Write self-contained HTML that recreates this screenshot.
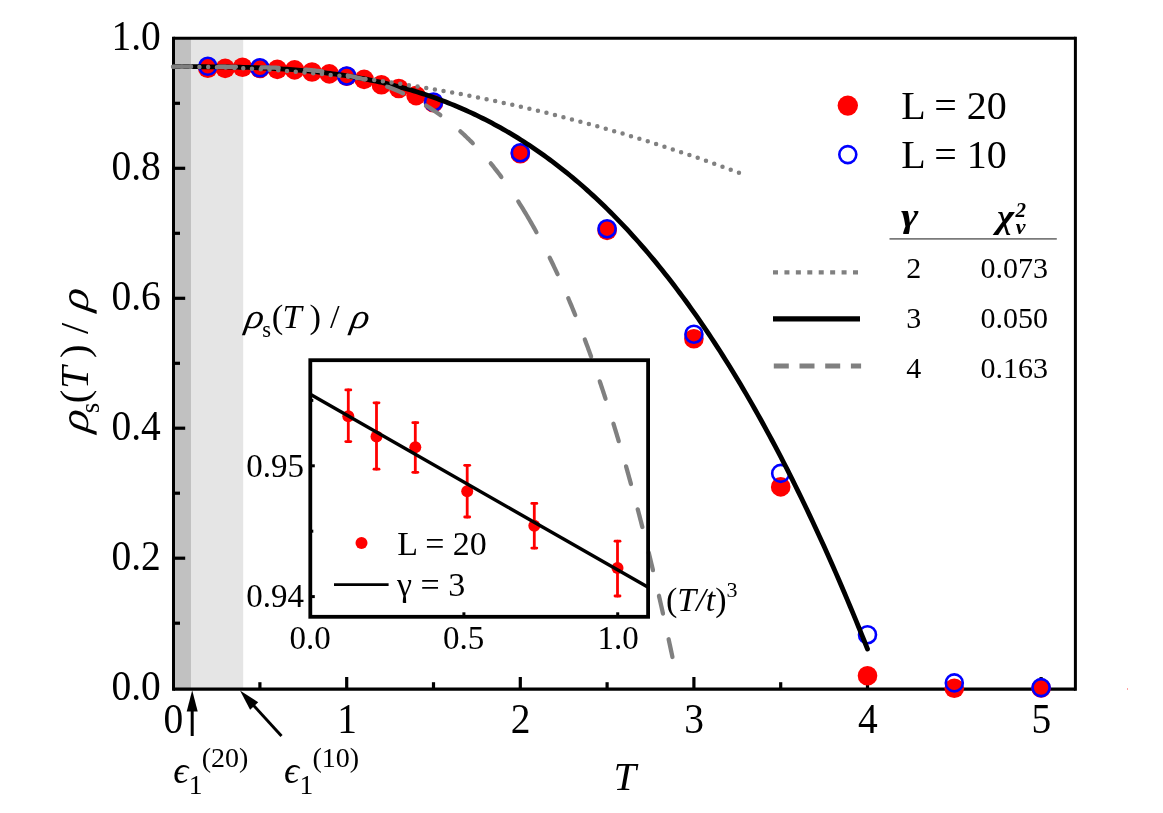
<!DOCTYPE html><html><head><meta charset="utf-8"><title>plot</title><style>html,body{margin:0;padding:0;background:#fff}svg{display:block;will-change:transform}text{font-family:"Liberation Serif",serif;fill:#000}.i{font-style:italic}.bi{font-style:italic;font-weight:bold}</style></head><body>
<svg width="1163" height="813" viewBox="0 0 1163 813">
<rect width="1163" height="813" fill="#fff"/>
<rect x="173.5" y="38.25" width="17.5" height="650.95" fill="#c1c1c1"/>
<rect x="191" y="38.25" width="52.19999999999999" height="650.95" fill="#e5e5e5"/>
<g stroke="#000" fill="none"><line x1="173.5" y1="36.75" x2="173.5" y2="690.85" stroke-width="3"/><line x1="1075.4" y1="36.75" x2="1075.4" y2="690.85" stroke-width="3"/><line x1="173.5" y1="38.25" x2="1075.4" y2="38.25" stroke-width="3"/><line x1="173.5" y1="689.2" x2="1075.4" y2="689.2" stroke-width="3.3"/></g>
<g stroke="#000" stroke-width="3.2">
<line x1="259.9" y1="689.2" x2="259.9" y2="682.2"/>
<line x1="346.7" y1="689.2" x2="346.7" y2="677.0"/>
<line x1="433.5" y1="689.2" x2="433.5" y2="682.2"/>
<line x1="520.3" y1="689.2" x2="520.3" y2="677.0"/>
<line x1="607.1" y1="689.2" x2="607.1" y2="682.2"/>
<line x1="693.9" y1="689.2" x2="693.9" y2="677.0"/>
<line x1="780.7" y1="689.2" x2="780.7" y2="682.2"/>
<line x1="867.5" y1="689.2" x2="867.5" y2="677.0"/>
<line x1="954.3" y1="689.2" x2="954.3" y2="682.2"/>
<line x1="1041.1" y1="689.2" x2="1041.1" y2="677.0"/>
<line x1="173.5" y1="623.2" x2="180.0" y2="623.2"/>
<line x1="173.5" y1="558.2" x2="185.2" y2="558.2"/>
<line x1="173.5" y1="493.2" x2="180.0" y2="493.2"/>
<line x1="173.5" y1="428.2" x2="185.2" y2="428.2"/>
<line x1="173.5" y1="363.3" x2="180.0" y2="363.3"/>
<line x1="173.5" y1="298.3" x2="185.2" y2="298.3"/>
<line x1="173.5" y1="233.3" x2="180.0" y2="233.3"/>
<line x1="173.5" y1="168.3" x2="185.2" y2="168.3"/>
<line x1="173.5" y1="103.3" x2="180.0" y2="103.3"/>
</g>
<g fill="#ff0000">
<circle cx="207.8" cy="68.3" r="9.8"/>
<circle cx="225.2" cy="68.4" r="9.8"/>
<circle cx="242.5" cy="67.2" r="9.8"/>
<circle cx="259.9" cy="68.5" r="9.8"/>
<circle cx="277.3" cy="69.4" r="9.8"/>
<circle cx="294.6" cy="69.9" r="9.8"/>
<circle cx="312.0" cy="72.0" r="9.8"/>
<circle cx="329.3" cy="73.9" r="9.8"/>
<circle cx="346.7" cy="76.3" r="9.8"/>
<circle cx="364.1" cy="79.4" r="9.8"/>
<circle cx="381.4" cy="84.7" r="9.8"/>
<circle cx="398.8" cy="88.5" r="9.8"/>
<circle cx="416.1" cy="95.6" r="9.8"/>
<circle cx="433.5" cy="102.7" r="9.8"/>
<circle cx="520.3" cy="153.7" r="9.8"/>
<circle cx="607.1" cy="230.4" r="9.8"/>
<circle cx="693.9" cy="338.7" r="9.8"/>
<circle cx="780.7" cy="486.9" r="9.8"/>
<circle cx="867.5" cy="675.8" r="9.8"/>
<circle cx="954.3" cy="688.2" r="9.8"/>
<circle cx="1041.1" cy="688.0" r="9.8"/>
</g>
<g fill="none" stroke="#0000ff" stroke-width="2.6">
<circle cx="207.8" cy="66.3" r="8.5"/>
<circle cx="259.9" cy="67.8" r="8.5"/>
<circle cx="346.7" cy="76.0" r="8.5"/>
<circle cx="433.5" cy="102.0" r="8.5"/>
<circle cx="520.3" cy="152.7" r="8.5"/>
<circle cx="607.1" cy="228.7" r="8.5"/>
<circle cx="693.9" cy="334.2" r="8.5"/>
<circle cx="780.7" cy="473.4" r="8.5"/>
<circle cx="867.5" cy="634.7" r="8.5"/>
<circle cx="954.3" cy="682.9" r="8.5"/>
<circle cx="1041.1" cy="687.6" r="8.5"/>
</g>
<path d="M173.79,66.70 L176.68,66.70 L179.58,66.70 L182.47,66.70 L185.36,66.70 L188.25,66.71 L191.14,66.71 L194.03,66.72 L196.92,66.72 L199.81,66.73 L202.70,66.75 L205.59,66.76 L208.48,66.78 L211.37,66.80 L214.26,66.82 L217.15,66.85 L220.04,66.88 L222.93,66.92 L225.82,66.96 L228.71,67.00 L231.60,67.05 L234.49,67.10 L237.38,67.16 L240.27,67.23 L243.16,67.30 L246.06,67.38 L248.95,67.46 L251.84,67.55 L254.73,67.65 L257.62,67.75 L260.51,67.86 L263.40,67.98 L266.29,68.11 L269.18,68.24 L272.07,68.39 L274.96,68.54 L277.85,68.70 L280.74,68.87 L283.63,69.05 L286.52,69.24 L289.41,69.44 L292.30,69.65 L295.19,69.87 L298.08,70.10 L300.97,70.34 L303.86,70.59 L306.75,70.85 L309.65,71.13 L312.54,71.42 L315.43,71.71 L318.32,72.03 L321.21,72.35 L324.10,72.69 L326.99,73.04 L329.88,73.40 L332.77,73.78 L335.66,74.17 L338.55,74.58 L341.44,75.00 L344.33,75.43 L347.22,75.88 L350.11,76.35 L353.00,76.83 L355.89,77.32 L358.78,77.83 L361.67,78.36 L364.56,78.91 L367.45,79.47 L370.34,80.05 L373.23,80.64 L376.13,81.25 L379.02,81.88 L381.91,82.53 L384.80,83.20 L387.69,83.89 L390.58,84.59 L393.47,85.31 L396.36,86.05 L399.25,86.82 L402.14,87.60 L405.03,88.40 L407.92,89.22 L410.81,90.06 L413.70,90.92 L416.59,91.81 L419.48,92.71 L422.37,93.64 L425.26,94.59 L428.15,95.56 L431.04,96.55 L433.93,97.56 L436.82,98.60 L439.71,99.66 L442.61,100.74 L445.50,101.85 L448.39,102.98 L451.28,104.14 L454.17,105.32 L457.06,106.52 L459.95,107.75 L462.84,109.00 L465.73,110.28 L468.62,111.58 L471.51,112.91 L474.40,114.27 L477.29,115.65 L480.18,117.06 L483.07,118.50 L485.96,119.96 L488.85,121.45 L491.74,122.97 L494.63,124.51 L497.52,126.08 L500.41,127.69 L503.30,129.32 L506.20,130.97 L509.09,132.66 L511.98,134.38 L514.87,136.13 L517.76,137.90 L520.65,139.71 L523.54,141.54 L526.43,143.41 L529.32,145.31 L532.21,147.24 L535.10,149.20 L537.99,151.19 L540.88,153.22 L543.77,155.27 L546.66,157.36 L549.55,159.48 L552.44,161.63 L555.33,163.82 L558.22,166.04 L561.11,168.29 L564.00,170.58 L566.89,172.90 L569.78,175.26 L572.68,177.65 L575.57,180.07 L578.46,182.53 L581.35,185.03 L584.24,187.56 L587.13,190.13 L590.02,192.73 L592.91,195.37 L595.80,198.05 L598.69,200.76 L601.58,203.51 L604.47,206.30 L607.36,209.12 L610.25,211.99 L613.14,214.89 L616.03,217.83 L618.92,220.80 L621.81,223.82 L624.70,226.88 L627.59,229.97 L630.48,233.11 L633.37,236.28 L636.26,239.50 L639.16,242.75 L642.05,246.05 L644.94,249.38 L647.83,252.76 L650.72,256.18 L653.61,259.64 L656.50,263.15 L659.39,266.69 L662.28,270.28 L665.17,273.91 L668.06,277.58 L670.95,281.30 L673.84,285.06 L676.73,288.86 L679.62,292.71 L682.51,296.60 L685.40,300.53 L688.29,304.51 L691.18,308.54 L694.07,312.61 L696.96,316.72 L699.85,320.89 L702.74,325.09 L705.64,329.35 L708.53,333.65 L711.42,337.99 L714.31,342.39 L717.20,346.83 L720.09,351.32 L722.98,355.85 L725.87,360.44 L728.76,365.07 L731.65,369.75 L734.54,374.48 L737.43,379.25 L740.32,384.08 L743.21,388.96 L746.10,393.89 L748.99,398.86 L751.88,403.89 L754.77,408.97 L757.66,414.09 L760.55,419.27 L763.44,424.50 L766.33,429.78 L769.23,435.12 L772.12,440.50 L775.01,445.94 L777.90,451.43 L780.79,456.97 L783.68,462.57 L786.57,468.21 L789.46,473.92 L792.35,479.67 L795.24,485.48 L798.13,491.35 L801.02,497.27 L803.91,503.24 L806.80,509.27 L809.69,515.35 L812.58,521.49 L815.47,527.68 L818.36,533.93 L821.25,540.24 L824.14,546.61 L827.03,553.03 L829.92,559.50 L832.81,566.04 L835.71,572.63 L838.60,579.28 L841.49,585.99 L844.38,592.75 L847.27,599.58 L850.16,606.46 L853.05,613.40 L855.94,620.41 L858.83,627.47 L861.72,634.59 L864.61,641.77 L867.50,649.01" fill="none" stroke="#000" stroke-width="4.8" stroke-linecap="round"/>
<g fill="none" stroke="#808080" stroke-width="4.3" stroke-linecap="round">
<path d="M173.85,66.70 L175.17,66.70 L176.50,66.70 L177.82,66.70 L179.14,66.70 L180.47,66.70 L181.79,66.70 L183.11,66.70 L184.43,66.70 L185.76,66.70 L187.08,66.70 L188.40,66.70 L189.73,66.70 L191.05,66.70"/>
<path d="M218.75,66.74 L220.07,66.75 L221.40,66.75 L222.72,66.76 L224.04,66.76 L225.37,66.77 L226.69,66.78 L228.01,66.79 L229.33,66.80 L230.66,66.80 L231.98,66.81 L233.30,66.83 L234.63,66.84 L235.95,66.85"/>
<path d="M261.55,67.28 L262.87,67.32 L264.19,67.35 L265.51,67.39 L266.84,67.43 L268.16,67.48 L269.48,67.52 L270.80,67.57 L272.12,67.61 L273.45,67.66 L274.77,67.72 L276.09,67.77 L277.41,67.82 L278.73,67.88"/>
<path d="M305.18,69.59 L306.50,69.71 L307.81,69.83 L309.13,69.95 L310.45,70.08 L311.76,70.21 L313.08,70.35 L314.40,70.49 L315.71,70.63 L317.03,70.78 L318.34,70.93 L319.65,71.08 L320.97,71.24 L322.28,71.40"/>
<path d="M347.74,75.53 L349.04,75.80 L350.33,76.07 L351.63,76.35 L352.92,76.63 L354.21,76.92 L355.50,77.21 L356.79,77.51 L358.08,77.82 L359.36,78.13 L360.65,78.45 L361.93,78.77 L363.21,79.10 L364.49,79.44"/>
<path d="M387.17,86.64 L388.40,87.11 L389.64,87.58 L390.87,88.06 L392.10,88.54 L393.33,89.04 L394.56,89.54 L395.78,90.05 L397.00,90.56 L398.21,91.08 L399.42,91.61 L400.63,92.15 L401.84,92.69 L403.04,93.25"/>
<path d="M426.03,105.56 L427.16,106.26 L428.28,106.96 L429.40,107.67 L430.51,108.39 L431.62,109.11 L432.72,109.84 L433.82,110.58 L434.92,111.32 L436.01,112.07 L437.09,112.82 L438.18,113.58 L439.26,114.35 L440.33,115.12"/>
<path d="M460.36,131.36 L461.34,132.25 L462.32,133.14 L463.29,134.04 L464.26,134.94 L465.22,135.85 L466.18,136.76 L467.14,137.68 L468.08,138.60 L469.03,139.52 L469.97,140.45 L470.91,141.39 L471.84,142.33 L472.77,143.27"/>
<path d="M490.76,163.39 L491.60,164.41 L492.43,165.44 L493.26,166.47 L494.09,167.51 L494.91,168.54 L495.73,169.58 L496.54,170.62 L497.35,171.67 L498.16,172.72 L498.96,173.77 L499.76,174.82 L500.56,175.88 L501.35,176.94"/>
<path d="M518.26,201.47 L519.73,203.79 L521.19,206.12 L522.64,208.45 L524.08,210.79 L525.50,213.14 L526.91,215.50 L528.31,217.86 L529.69,220.23 L531.06,222.61 L532.42,225.00 L533.77,227.39 L535.11,229.78 L536.44,232.19"/>
<path d="M549.72,257.74 L550.34,259.00 L550.95,260.26 L551.56,261.51 L552.18,262.77 L552.78,264.04 L553.39,265.30 L553.99,266.56 L554.59,267.83 L555.19,269.09 L555.79,270.36 L556.38,271.63 L556.97,272.89 L557.56,274.16"/>
<path d="M568.24,298.20 L568.79,299.48 L569.34,300.77 L569.88,302.06 L570.43,303.35 L570.97,304.65 L571.51,305.94 L572.04,307.23 L572.58,308.52 L573.11,309.82 L573.64,311.11 L574.17,312.41 L574.70,313.71 L575.23,315.00"/>
<path d="M584.80,339.50 L585.29,340.81 L585.79,342.12 L586.28,343.43 L586.76,344.74 L587.25,346.06 L587.74,347.37 L588.22,348.68 L588.70,350.00 L589.19,351.31 L589.67,352.63 L590.14,353.94 L590.62,355.26 L591.10,356.57"/>
<path d="M599.77,381.40 L600.22,382.73 L600.67,384.05 L601.12,385.38 L601.56,386.71 L602.00,388.04 L602.45,389.37 L602.89,390.69 L603.33,392.02 L603.77,393.35 L604.20,394.68 L604.64,396.01 L605.08,397.34 L605.51,398.67"/>
<path d="M613.45,423.75 L613.87,425.08 L614.28,426.42 L614.69,427.76 L615.09,429.10 L615.50,430.44 L615.91,431.78 L616.32,433.12 L616.72,434.46 L617.12,435.80 L617.53,437.14 L617.93,438.48 L618.33,439.82 L618.73,441.16"/>
<path d="M626.06,466.42 L626.44,467.77 L626.82,469.12 L627.20,470.46 L627.58,471.81 L627.96,473.16 L628.33,474.51 L628.71,475.86 L629.08,477.21 L629.46,478.55 L629.83,479.90 L630.20,481.25 L630.58,482.60 L630.95,483.95"/>
<path d="M637.76,509.35 L638.12,510.71 L638.47,512.06 L638.82,513.42 L639.18,514.77 L639.53,516.13 L639.88,517.48 L640.23,518.84 L640.58,520.19 L640.93,521.55 L641.28,522.91 L641.62,524.26 L641.97,525.62 L642.32,526.98"/>
<path d="M648.69,552.49 L649.02,553.85 L649.35,555.21 L649.69,556.57 L650.02,557.93 L650.35,559.29 L650.68,560.65 L651.00,562.01 L651.33,563.38 L651.66,564.74 L651.99,566.10 L652.31,567.46 L652.64,568.82 L652.96,570.18"/>
<path d="M658.95,595.79 L659.26,597.16 L659.58,598.52 L659.89,599.89 L660.20,601.25 L660.51,602.62 L660.82,603.98 L661.13,605.35 L661.44,606.71 L661.75,608.08 L662.05,609.44 L662.36,610.81 L662.67,612.18 L662.98,613.54"/>
<path d="M668.63,639.23 L668.92,640.59 L669.22,641.96 L669.51,643.33 L669.81,644.70 L670.10,646.07 L670.40,647.44 L670.69,648.81 L670.98,650.18 L671.27,651.55 L671.56,652.91 L671.86,654.28 L672.15,655.65 L672.44,657.02"/>
</g>
<path d="M173.10,66.70 L175.47,66.70 L177.84,66.71 L180.20,66.72 L182.57,66.73 L184.94,66.75 L187.31,66.77 L189.68,66.79 L192.05,66.82 L194.41,66.85 L196.78,66.89 L199.15,66.93 L201.52,66.97 L203.89,67.01 L206.25,67.06 L208.62,67.12 L210.99,67.18 L213.36,67.24 L215.73,67.30 L218.10,67.37 L220.46,67.44 L222.83,67.52 L225.20,67.60 L227.57,67.68 L229.94,67.77 L232.30,67.86 L234.67,67.96 L237.04,68.05 L239.41,68.16 L241.78,68.26 L244.15,68.37 L246.51,68.49 L248.88,68.60 L251.25,68.72 L253.62,68.85 L255.99,68.98 L258.35,69.11 L260.72,69.24 L263.09,69.38 L265.46,69.53 L267.83,69.67 L270.20,69.82 L272.56,69.98 L274.93,70.14 L277.30,70.30 L279.67,70.46 L282.04,70.63 L284.41,70.80 L286.77,70.98 L289.14,71.16 L291.51,71.34 L293.88,71.53 L296.25,71.72 L298.61,71.92 L300.98,72.12 L303.35,72.32 L305.72,72.53 L308.09,72.74 L310.46,72.95 L312.82,73.17 L315.19,73.39 L317.56,73.61 L319.93,73.84 L322.30,74.07 L324.66,74.31 L327.03,74.55 L329.40,74.79 L331.77,75.04 L334.14,75.29 L336.51,75.55 L338.87,75.80 L341.24,76.07 L343.61,76.33 L345.98,76.60 L348.35,76.87 L350.71,77.15 L353.08,77.43 L355.45,77.71 L357.82,78.00 L360.19,78.29 L362.56,78.59 L364.92,78.89 L367.29,79.19 L369.66,79.50 L372.03,79.81 L374.40,80.12 L376.76,80.44 L379.13,80.76 L381.50,81.09 L383.87,81.42 L386.24,81.75 L388.61,82.08 L390.97,82.42 L393.34,82.77 L395.71,83.12 L398.08,83.47 L400.45,83.82 L402.81,84.18 L405.18,84.54 L407.55,84.91 L409.92,85.28 L412.29,85.65 L414.66,86.03 L417.02,86.41 L419.39,86.79 L421.76,87.18 L424.13,87.57 L426.50,87.97 L428.86,88.37 L431.23,88.77 L433.60,89.18 L435.97,89.59 L438.34,90.00 L440.71,90.42 L443.07,90.84 L445.44,91.27 L447.81,91.70 L450.18,92.13 L452.55,92.57 L454.92,93.01 L457.28,93.45 L459.65,93.90 L462.02,94.35 L464.39,94.81 L466.76,95.26 L469.12,95.73 L471.49,96.19 L473.86,96.66 L476.23,97.14 L478.60,97.61 L480.97,98.10 L483.33,98.58 L485.70,99.07 L488.07,99.56 L490.44,100.06 L492.81,100.56 L495.17,101.06 L497.54,101.57 L499.91,102.08 L502.28,102.59 L504.65,103.11 L507.02,103.63 L509.38,104.16 L511.75,104.69 L514.12,105.22 L516.49,105.76 L518.86,106.30 L521.22,106.84 L523.59,107.39 L525.96,107.94 L528.33,108.50 L530.70,109.06 L533.07,109.62 L535.43,110.19 L537.80,110.76 L540.17,111.33 L542.54,111.91 L544.91,112.49 L547.27,113.08 L549.64,113.66 L552.01,114.26 L554.38,114.85 L556.75,115.45 L559.12,116.06 L561.48,116.66 L563.85,117.28 L566.22,117.89 L568.59,118.51 L570.96,119.13 L573.32,119.76 L575.69,120.39 L578.06,121.02 L580.43,121.66 L582.80,122.30 L585.17,122.94 L587.53,123.59 L589.90,124.24 L592.27,124.90 L594.64,125.56 L597.01,126.22 L599.37,126.89 L601.74,127.56 L604.11,128.23 L606.48,128.91 L608.85,129.59 L611.22,130.28 L613.58,130.97 L615.95,131.66 L618.32,132.36 L620.69,133.06 L623.06,133.76 L625.42,134.47 L627.79,135.18 L630.16,135.90 L632.53,136.62 L634.90,137.34 L637.27,138.07 L639.63,138.80 L642.00,139.53 L644.37,140.27 L646.74,141.01 L649.11,141.75 L651.48,142.50 L653.84,143.25 L656.21,144.01 L658.58,144.77 L660.95,145.53 L663.32,146.30 L665.68,147.07 L668.05,147.85 L670.42,148.62 L672.79,149.41 L675.16,150.19 L677.53,150.98 L679.89,151.78 L682.26,152.57 L684.63,153.37 L687.00,154.18 L689.37,154.99 L691.73,155.80 L694.10,156.61 L696.47,157.43 L698.84,158.25 L701.21,159.08 L703.58,159.91 L705.94,160.75 L708.31,161.58 L710.68,162.43 L713.05,163.27 L715.42,164.12 L717.78,164.97 L720.15,165.83 L722.52,166.69 L724.89,167.55 L727.26,168.42 L729.63,169.29 L731.99,170.17 L734.36,171.05 L736.73,171.93 L739.10,172.81 L741.47,173.70" fill="none" stroke="#808080" stroke-width="4.5" stroke-linecap="round" stroke-dasharray="0 8.77"/>
<g transform="translate(173.4,733.0) scale(0.94,1)"><text x="0" y="0" font-size="42" text-anchor="middle">0</text></g>
<g transform="translate(347.0,733.0) scale(0.94,1)"><text x="0" y="0" font-size="42" text-anchor="middle">1</text></g>
<g transform="translate(520.6,733.0) scale(0.94,1)"><text x="0" y="0" font-size="42" text-anchor="middle">2</text></g>
<g transform="translate(694.2,733.0) scale(0.94,1)"><text x="0" y="0" font-size="42" text-anchor="middle">3</text></g>
<g transform="translate(867.8,733.0) scale(0.94,1)"><text x="0" y="0" font-size="42" text-anchor="middle">4</text></g>
<g transform="translate(1041.4,733.0) scale(0.94,1)"><text x="0" y="0" font-size="42" text-anchor="middle">5</text></g>
<g transform="translate(160.8,700.1) scale(0.94,1)"><text x="0" y="0" font-size="42" text-anchor="end">0.0</text></g>
<g transform="translate(160.8,570.1) scale(0.94,1)"><text x="0" y="0" font-size="42" text-anchor="end">0.2</text></g>
<g transform="translate(160.8,440.1) scale(0.94,1)"><text x="0" y="0" font-size="42" text-anchor="end">0.4</text></g>
<g transform="translate(160.8,310.2) scale(0.94,1)"><text x="0" y="0" font-size="42" text-anchor="end">0.6</text></g>
<g transform="translate(160.8,180.2) scale(0.94,1)"><text x="0" y="0" font-size="42" text-anchor="end">0.8</text></g>
<g transform="translate(160.8,50.2) scale(0.94,1)"><text x="0" y="0" font-size="42" text-anchor="end">1.0</text></g>
<text x="613.5" y="789.9" font-size="40.5" class="i">T</text>
<g transform="translate(88.2,436) rotate(-90)">
<g transform="translate(3.2,0.0) skewX(-9) scale(1.12,1)"><text x="0" y="0" font-size="40.5" class="i">ρ</text></g>
<text x="22.8" y="10.8" font-size="27">s</text>
<text x="32.8" y="0.0" font-size="40.5">(</text>
<text x="47.0" y="0.0" font-size="40.5" class="i">T</text>
<text x="77.9" y="0.0" font-size="40.5">)</text>
<text x="102.1" y="0.0" font-size="40.5">/</text>
<g transform="translate(124.6,0.0) skewX(-9) scale(1.12,1)"><text x="0" y="0" font-size="40.5" class="i">ρ</text></g>
</g>
<g stroke="#000" stroke-width="3" fill="#000">
<line x1="192.2" y1="736" x2="192.2" y2="705"/><polygon points="192.2,690.3 186.7,711.5 197.7,711.5" stroke="none"/>
<line x1="281.5" y1="736" x2="250.1" y2="701.6"/><polygon points="240,690.5 258.2,702.3 250.1,709.7" stroke="none"/>
</g>
<text x="173.3" y="783.0" font-size="37.5" class="i">ϵ</text>
<text x="188.8" y="794.0" font-size="27.5">1</text>
<text x="201.7" y="766.9" font-size="28">(20)</text>
<text x="284.1" y="783.0" font-size="37.5" class="i">ϵ</text>
<text x="299.6" y="794.0" font-size="27.5">1</text>
<text x="312.5" y="766.9" font-size="28">(10)</text>
<circle cx="847.8" cy="105.6" r="10.2" fill="#ff0000"/>
<circle cx="847.8" cy="154.6" r="8.5" fill="none" stroke="#0000ff" stroke-width="2.6"/>
<text x="901.3" y="119.2" font-size="40">L = 20</text>
<text x="901.3" y="168" font-size="40">L = 10</text>
<g transform="translate(901.0,226.6) scale(1.25,1)"><text x="0" y="0" font-size="33.5" class="bi">γ</text></g>
<g transform="translate(996.9,227.8) scale(1.08,1)"><text x="0" y="0" font-size="34" class="bi">χ</text></g>
<text x="1015.6" y="217.1" font-size="21" class="bi">2</text>
<text x="1015.7" y="234.0" font-size="22" class="bi">ν</text>
<line x1="889.5" y1="238.8" x2="1056.8" y2="238.8" stroke="#7a7a7a" stroke-width="1.7"/>
<text x="913.8" y="277.5" font-size="30" text-anchor="middle">2</text>
<text x="1014.3" y="277.5" font-size="30" text-anchor="middle">0.073</text>
<text x="913.8" y="327.7" font-size="30" text-anchor="middle">3</text>
<text x="1014.3" y="327.7" font-size="30" text-anchor="middle">0.050</text>
<text x="913.8" y="377.9" font-size="30" text-anchor="middle">4</text>
<text x="1014.3" y="377.9" font-size="30" text-anchor="middle">0.163</text>
<line x1="773" y1="272.4" x2="860" y2="272.4" stroke="#808080" stroke-width="4.2" stroke-dasharray="5 6.43"/>
<line x1="773" y1="318.9" x2="860" y2="318.9" stroke="#000" stroke-width="5.2"/>
<line x1="773.8" y1="366.0" x2="861.1" y2="366.0" stroke="#808080" stroke-width="5" stroke-dasharray="15 10.7"/>
<g stroke="#ff0000" stroke-width="2.8" fill="#ff0000" stroke-linecap="round">
<line x1="348.3" y1="389.9" x2="348.3" y2="441.6"/><line x1="345.8" y1="389.9" x2="350.8" y2="389.9"/><line x1="345.8" y1="441.6" x2="350.8" y2="441.6"/><circle cx="348.3" cy="416.2" r="6.0" stroke="none"/>
<line x1="376.5" y1="402.8" x2="376.5" y2="469.2"/><line x1="374.0" y1="402.8" x2="379.0" y2="402.8"/><line x1="374.0" y1="469.2" x2="379.0" y2="469.2"/><circle cx="376.5" cy="436.4" r="6.0" stroke="none"/>
<line x1="415.3" y1="422.7" x2="415.3" y2="472.3"/><line x1="412.8" y1="422.7" x2="417.8" y2="422.7"/><line x1="412.8" y1="472.3" x2="417.8" y2="472.3"/><circle cx="415.3" cy="447.2" r="6.0" stroke="none"/>
<line x1="467.2" y1="465.3" x2="467.2" y2="517"/><line x1="464.7" y1="465.3" x2="469.7" y2="465.3"/><line x1="464.7" y1="517" x2="469.7" y2="517"/><circle cx="467.2" cy="491.2" r="6.0" stroke="none"/>
<line x1="534.3" y1="503.4" x2="534.3" y2="548.1"/><line x1="531.8" y1="503.4" x2="536.8" y2="503.4"/><line x1="531.8" y1="548.1" x2="536.8" y2="548.1"/><circle cx="534.3" cy="525.8" r="6.0" stroke="none"/>
<line x1="617.5" y1="541.2" x2="617.5" y2="596"/><line x1="615.0" y1="541.2" x2="620.0" y2="541.2"/><line x1="615.0" y1="596" x2="620.0" y2="596"/><circle cx="617.5" cy="568.1" r="6.0" stroke="none"/>
</g>
<line x1="310.3" y1="394.3" x2="648.1" y2="587.3" stroke="#000" stroke-width="3.4"/>
<rect x="310.3" y="360.2" width="337.8" height="256.59999999999997" fill="none" stroke="#000" stroke-width="3.8"/>
<g stroke="#000" stroke-width="3">
<line x1="463.9" y1="616.8" x2="463.9" y2="612.3"/>
<line x1="617.7" y1="616.8" x2="617.7" y2="612.3"/>
<line x1="310.3" y1="596.6" x2="314.8" y2="596.6"/>
<line x1="310.3" y1="465.8" x2="314.8" y2="465.8"/>
<line x1="310.3" y1="531.2" x2="313.3" y2="531.2"/>
<line x1="310.3" y1="400.4" x2="313.3" y2="400.4"/>
</g>
<g font-size="33" text-anchor="middle">
<text x="310" y="648.5">0.0</text><text x="463.6" y="648.5">0.5</text><text x="618" y="648.5">1.0</text>
</g>
<g font-size="33" text-anchor="end"><text x="304" y="476.5">0.95</text><text x="304" y="606.5">0.94</text></g>
<circle cx="361.5" cy="543.1" r="6.0" fill="#ff0000"/>
<text x="397.2" y="554.7" font-size="34">L = 20</text>
<line x1="334" y1="584.6" x2="388.6" y2="584.6" stroke="#000" stroke-width="2.8"/>
<text x="397" y="596" font-size="34">γ = 3</text>
<text x="666" y="611.2" font-size="34">(<tspan font-style="italic">T/t</tspan>)<tspan font-size="22" dy="-14">3</tspan></text>
<g transform="translate(243.9,327.5) skewX(-9) scale(1.12,1)"><text x="0" y="0" font-size="34.6" class="i">ρ</text></g>
<text x="262.3" y="336.6" font-size="22.5">s</text>
<text x="271.8" y="327.5" font-size="34.6">(</text>
<text x="282.5" y="327.5" font-size="34.6" class="i">T</text>
<text x="309.4" y="327.5" font-size="34.6">)</text>
<text x="330.0" y="327.5" font-size="34.6">/</text>
<g transform="translate(349.6,327.5) skewX(-9) scale(1.12,1)"><text x="0" y="0" font-size="34.6" class="i">ρ</text></g>
<rect x="1127" y="688" width="1" height="2" fill="#ffa0a0"/>
</svg></body></html>
